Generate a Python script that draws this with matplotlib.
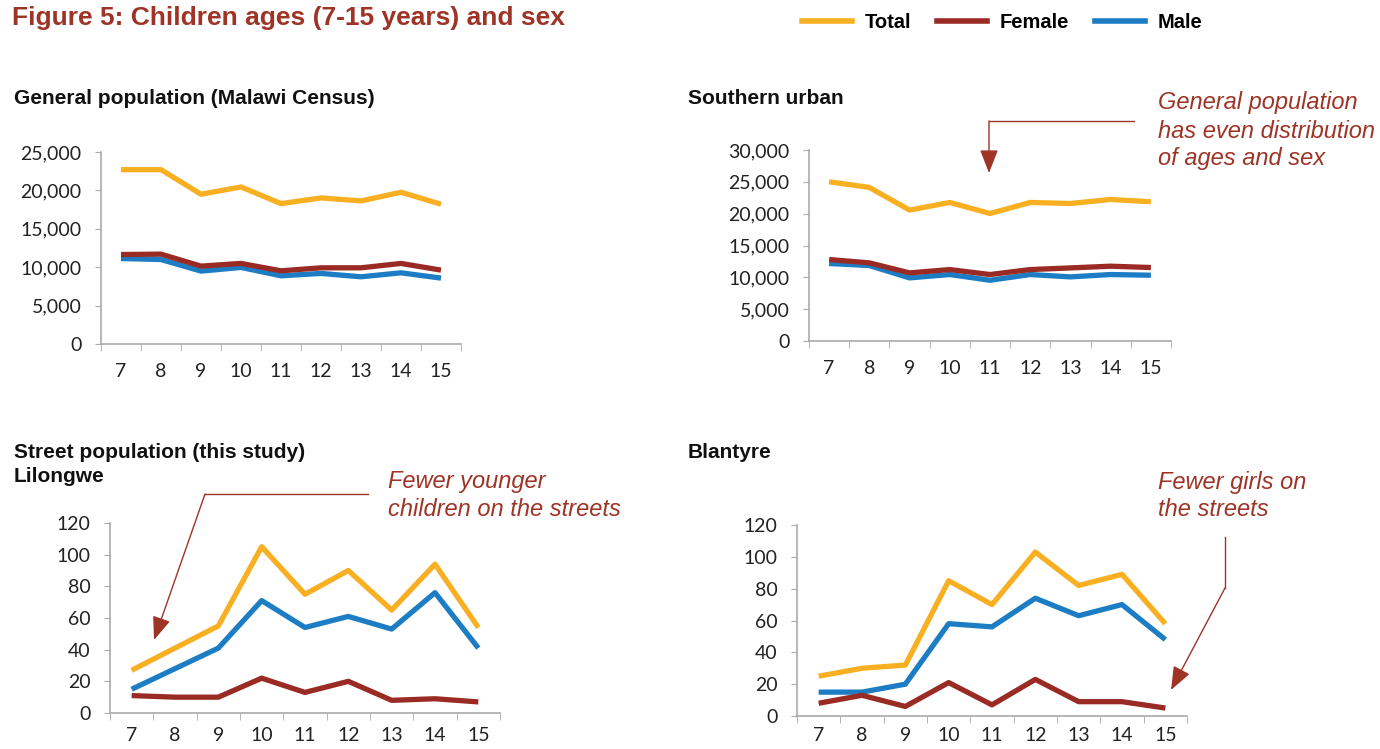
import matplotlib
matplotlib.use("Agg")
import matplotlib.pyplot as plt
from matplotlib.lines import Line2D
from matplotlib.patches import FancyArrowPatch
from matplotlib.ticker import FuncFormatter, FixedLocator

ages = [7, 8, 9, 10, 11, 12, 13, 14, 15]

census_total = [22700, 22700, 19500, 20450, 18280, 19020, 18630, 19760, 18200]
census_female = [11650, 11700, 10140, 10490, 9530, 9920, 9920, 10490, 9620]
census_male = [11130, 11000, 9490, 9970, 8880, 9190, 8750, 9270, 8580]

south_total = [25010, 24120, 20560, 21760, 20030, 21760, 21600, 22230, 21870]
south_female = [12800, 12270, 10700, 11220, 10440, 11220, 11480, 11750, 11540]
south_male = [12170, 11850, 9910, 10440, 9540, 10440, 10070, 10440, 10330]

lil_total = [27, 41, 55, 105, 75, 90, 65, 94, 54]
lil_female = [11, 10, 10, 22, 13, 20, 8, 9, 7]
lil_male = [15, 28, 41, 71, 54, 61, 53, 76, 41]

bla_total = [25, 30, 32, 85, 70, 103, 82, 89, 58]
bla_female = [8, 13, 6, 21, 7, 23, 9, 9, 5]
bla_male = [15, 15, 20, 58, 56, 74, 63, 70, 48]

series_names = ["Total", "Female", "Male"]
C_TOTAL = "#F8B022"
C_FEMALE = "#9A2A24"
C_MALE = "#1C7DC4"
RED = "#9E3426"
colors = [C_TOTAL, C_FEMALE, C_MALE]

W, H = 1380, 749
fig = plt.figure(figsize=(W / 100, H / 100), dpi=100)

def px(x, y):
    return (x / W, 1 - y / H)

def make_ax(left, right, top, bottom, ymax, ystep, data, xpad=14):
    l, b = px(left, bottom)
    r, t = px(right, top)
    ax = fig.add_axes([l, b, r - l, t - b])
    idx = list(range(len(ages)))
    tot, fem, mal = data
    ax.plot(idx, tot, color=C_TOTAL, lw=3.8, solid_capstyle="butt", zorder=3)
    ax.plot(idx, mal, color=C_MALE, lw=3.8, solid_capstyle="butt", zorder=3)
    ax.plot(idx, fem, color=C_FEMALE, lw=3.8, solid_capstyle="butt", zorder=4)
    ax.set_xlim(-0.5, len(ages) - 0.5)
    ax.set_ylim(0, ymax)
    ax.set_xticks(idx)
    ax.set_xticklabels([str(a) for a in ages])
    ax.xaxis.set_minor_locator(FixedLocator([i - 0.5 for i in range(len(ages) + 1)]))
    ax.tick_params(axis="x", which="major", length=0, pad=xpad, labelsize=14, labelcolor="#222222")
    ax.tick_params(axis="x", which="minor", length=5, color="#aaaaaa", direction="out")
    yt = list(range(0, ymax + 1, ystep))
    ax.set_yticks(yt)
    ax.yaxis.set_major_formatter(FuncFormatter(lambda v, p: f"{int(v):,}"))
    ax.tick_params(axis="y", length=4, color="#aaaaaa", pad=10, labelsize=14, labelcolor="#222222")
    for s in ["top", "right"]:
        ax.spines[s].set_visible(False)
    for s in ["left", "bottom"]:
        ax.spines[s].set_color("#aaaaaa")
        ax.spines[s].set_linewidth(1.2)
    for lab in ax.get_xticklabels() + ax.get_yticklabels():
        lab.set_fontfamily("Lato")
    ax.patch.set_alpha(0)
    return ax

make_ax(101, 461, 152, 344, 25000, 5000, (census_total, census_female, census_male))
make_ax(809, 1171, 150, 341, 30000, 5000, (south_total, south_female, south_male))
make_ax(110, 500, 523, 713, 120, 20, (lil_total, lil_female, lil_male), xpad=10)
make_ax(797, 1187, 525, 716, 120, 20, (bla_total, bla_female, bla_male), xpad=8)

# Title
fig.text(*px(12, 18), "Figure 5: Children ages (7-15 years) and sex", color=RED,
         fontsize=19, fontweight="bold", family="Liberation Sans", va="center", ha="left")

# Legend
handles = [Line2D([0], [0], color=c, lw=4) for c in colors]
fig.legend(handles, series_names, loc="center", bbox_to_anchor=px(1002, 23), ncol=3,
           frameon=False, handlelength=2.5, handletextpad=0.6, columnspacing=1.3,
           prop={"family": "Liberation Sans", "weight": "bold", "size": 14.5})

# Subtitles
sub_kw = dict(fontsize=15, fontweight="bold", family="Liberation Sans", va="center", ha="left", color="#111111")
fig.text(*px(14, 99), "General population (Malawi Census)", **sub_kw)
fig.text(*px(688, 99), "Southern urban", **sub_kw)
fig.text(*px(14, 452), "Street population (this study)", **sub_kw)
fig.text(*px(14, 477), "Lilongwe", **sub_kw)
fig.text(*px(688, 452), "Blantyre", **sub_kw)

# Annotations
ann_kw = dict(fontsize=17, style="italic", family="Liberation Sans", color=RED,
              va="center", ha="left")

def note(x, ys, lines):
    for y, t in zip(ys, lines):
        fig.text(*px(x, y), t, **ann_kw)

note(1158, [102, 131, 159], ["General population", "has even distribution", "of ages and sex"])
note(388, [482, 510], ["Fewer younger", "children on the streets"])
note(1158, [483, 510], ["Fewer girls on", "the streets"])

def poly(points):
    xs = [p[0] / W for p in points]
    ys = [1 - p[1] / H for p in points]
    fig.add_artist(Line2D(xs, ys, color=RED, lw=1.0, transform=fig.transFigure))

def arrow(p0, p1):
    a = FancyArrowPatch(px(*p0), px(*p1), transform=fig.transFigure,
                        arrowstyle="-|>,head_length=0.9,head_width=0.35", mutation_scale=16,
                        color=RED, lw=1.0, shrinkA=0, shrinkB=0)
    fig.add_artist(a)

poly([(1134, 121), (989, 121)])
arrow((989, 121), (989, 173))
poly([(368, 494), (205, 494)])
arrow((205, 494), (154, 640))
poly([(1225, 537), (1225, 588)])
arrow((1225, 588), (1171, 690))

fig.savefig("out.png", dpi=100)
